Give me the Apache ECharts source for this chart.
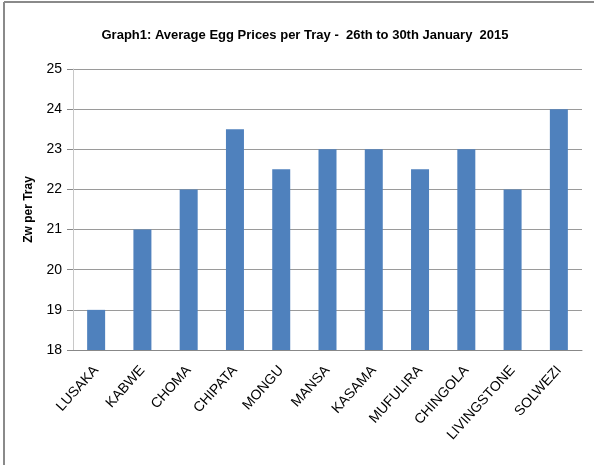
<!DOCTYPE html>
<html>
    <head>
        <meta charset="utf-8">
        <title>Graph1</title>
        <script src="https://cdn.jsdelivr.net/npm/echarts@6/dist/echarts.min.js"></script>
        <style>
            body { margin: 0; background: #fff; }
        </style>
    </head>
    <body>
        <div id="chart" style="width:594px; height:465px;"></div>
        <script>
            var towns = ['LUSAKA', 'KABWE', 'CHOMA', 'CHIPATA', 'MONGU', 'MANSA', 'KASAMA', 'MUFULIRA', 'CHINGOLA', 'LIVINGSTONE', 'SOLWEZI'];
            var prices = [19, 21, 22, 23.5, 22.5, 23, 23, 22.5, 23, 22, 24];
            var yTicks = [18, 19, 20, 21, 22, 23, 24, 25];

            var font = '"Liberation Sans", sans-serif';
            var chart = echarts.init(document.getElementById('chart'), null, {renderer: 'canvas'});

            chart.setOption({
                animation: false,
                title: {
                    text: 'Graph1: Average Egg Prices per Tray -  26th to 30th January  2015',
                    left: 300,
                    top: 24,
                    textAlign: 'center',
                    textStyle: {fontFamily: font, fontSize: 13, fontWeight: 'bold', color: '#000'}
                },
                graphic: [
                    {type: 'line', shape: {x1: 4, y1: 2, x2: 600, y2: 2}, style: {stroke: '#8a8a8a', lineWidth: 2}},
                    {type: 'line', shape: {x1: 4, y1: 2, x2: 4, y2: 470}, style: {stroke: '#8a8a8a', lineWidth: 2}}
                ],
                grid: {left: 73, right: 12, top: 69, bottom: 115},
                xAxis: {
                    type: 'category',
                    data: towns,
                    axisLine: {lineStyle: {color: '#888', width: 1}},
                    axisTick: {show: false},
                    axisLabel: {
                        rotate: 48,
                        interval: 0,
                        margin: 18,
                        color: '#000',
                        fontFamily: font,
                        fontSize: 14
                    }
                },
                yAxis: {
                    type: 'value',
                    min: yTicks[0],
                    max: yTicks[yTicks.length - 1],
                    interval: 1,
                    name: 'Zw per Tray',
                    nameLocation: 'middle',
                    nameGap: 38,
                    nameTextStyle: {fontFamily: font, fontSize: 12, fontWeight: 'bold', color: '#000'},
                    axisLine: {show: true, lineStyle: {color: '#c8c8c8'}},
                    axisTick: {show: true, length: 6, lineStyle: {color: '#888'}},
                    axisLabel: {color: '#000', fontFamily: font, fontSize: 14, margin: 11},
                    splitLine: {lineStyle: {color: '#9a9a9a'}}
                },
                series: [{
                    type: 'bar',
                    data: prices,
                    barWidth: 18,
                    itemStyle: {color: '#4f81bd'}
                }]
            });
        </script>
    </body>
</html>
